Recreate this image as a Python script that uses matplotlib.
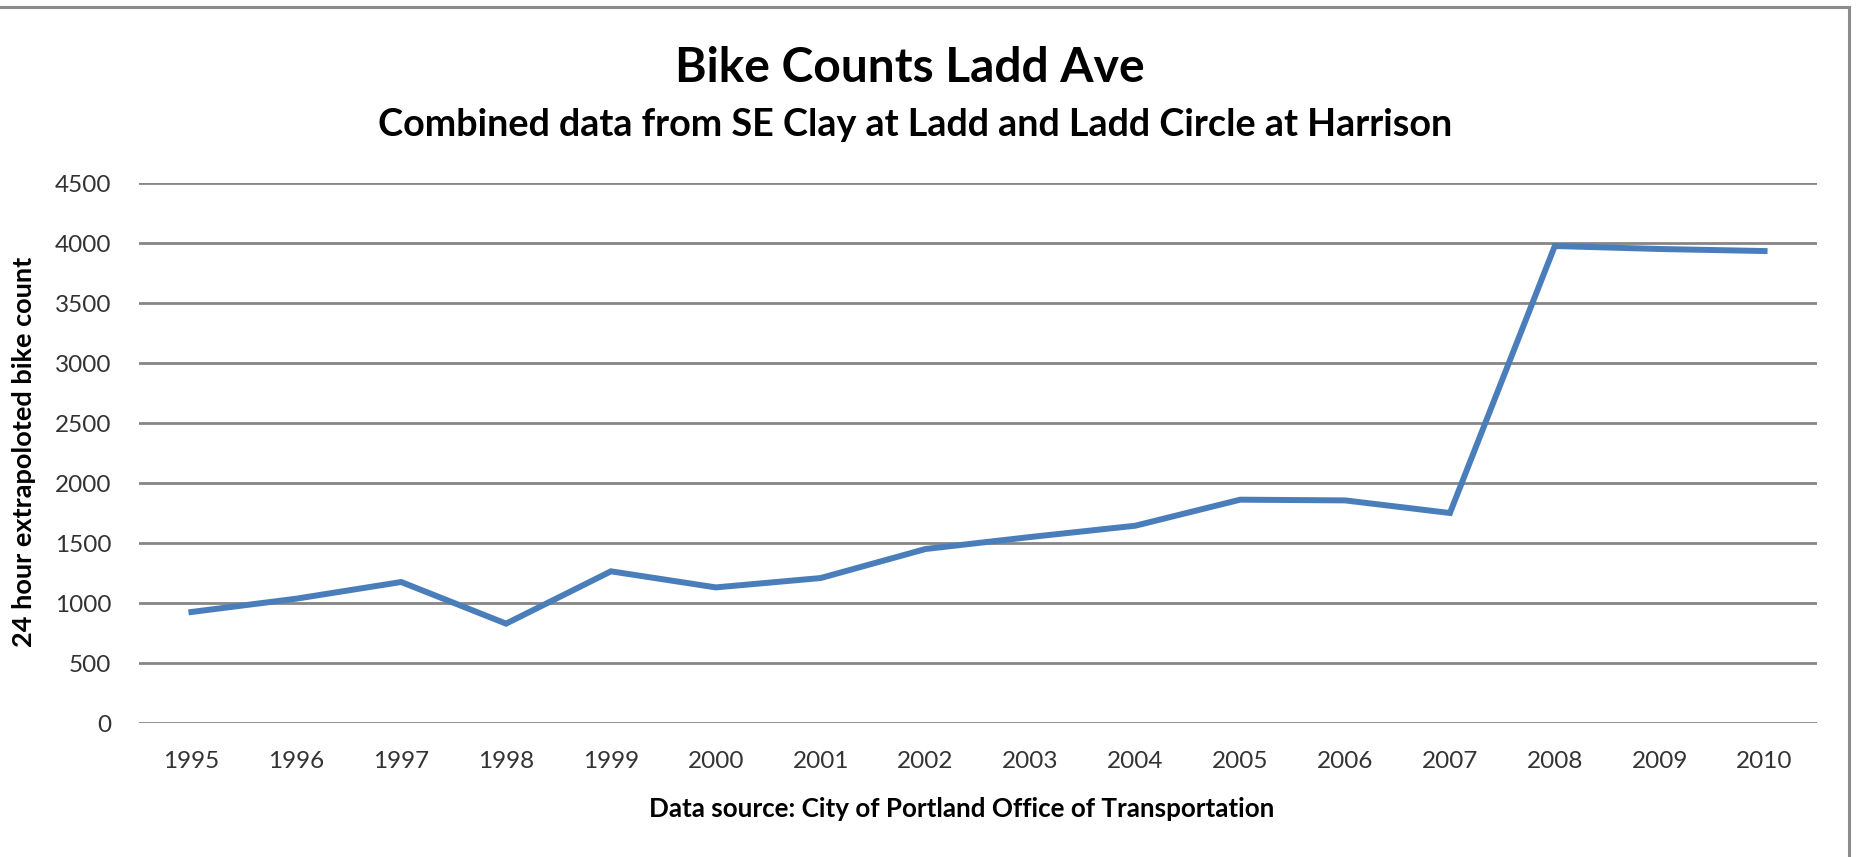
import matplotlib
matplotlib.use("Agg")
import matplotlib.pyplot as plt
from matplotlib.lines import Line2D

years = ["1995", "1996", "1997", "1998", "1999", "2000", "2001", "2002",
         "2003", "2004", "2005", "2006", "2007", "2008", "2009", "2010"]
counts = [925, 1036, 1175, 828, 1264, 1130, 1208, 1450,
          1550, 1644, 1861, 1855, 1750, 3975, 3950, 3933]
yticks = [0, 500, 1000, 1500, 2000, 2500, 3000, 3500, 4000, 4500]

title = "Bike Counts Ladd Ave"
subtitle = "Combined data from SE Clay at Ladd and Ladd Circle at Harrison"
ylabel = "24 hour extrapoloted bike count"
xlabel = "Data source: City of Portland Office of Transportation"

FONT = ["Lato", "DejaVu Sans"]
plt.rcParams["font.family"] = FONT

W, H = 1858, 857
fig = plt.figure(figsize=(W / 100, H / 100), dpi=100)
fig.patch.set_facecolor("white")

ax = fig.add_axes([139 / W, 1 - 723 / H, (1817 - 139) / W, (723 - 183) / H])
x = list(range(len(years)))
ax.plot(x, counts, color="#4a7ebb", lw=4.3, solid_joinstyle="miter", zorder=3)
ax.set_xlim(-0.5, len(years) - 0.5)
ax.set_ylim(0, 4500)
ax.set_yticks(yticks)
ax.set_yticklabels([str(v) for v in yticks])
ax.set_xticks(x)
ax.set_xticklabels(years)
for s in ax.spines.values():
    s.set_visible(False)
ax.grid(axis="y", color="#868686", lw=2.0, zorder=1)
ax.set_axisbelow(True)
ax.tick_params(axis="both", length=0, labelsize=17.5, colors="#333333")
ax.tick_params(axis="y", pad=20)
ax.tick_params(axis="x", pad=20)

r = fig.canvas.get_renderer()


def fit(t, target, vertical=False):
    bb = t.get_window_extent(r)
    w = bb.height if vertical else bb.width
    t.set_fontsize(t.get_fontsize() * target / w)


t1 = fig.text(910 / W, 1 - 68 / H, title, ha="center", va="center",
              fontsize=30, fontweight="bold", color="black")
fit(t1, 470)
t2 = fig.text(915 / W, 1 - 125 / H, subtitle, ha="center", va="center",
              fontsize=20, fontweight="bold", color="black")
fit(t2, 1076)
t3 = fig.text(24 / W, 1 - 452 / H, ylabel, ha="center", va="center",
              rotation=90, fontsize=14, fontweight="bold", color="black")
fit(t3, 394, vertical=True)
t4 = fig.text(962 / W, 1 - 809 / H, xlabel, ha="center", va="center",
              fontsize=14, fontweight="bold", color="black")
fit(t4, 628)

# partial frame (top and right border of the screenshot)
fig.add_artist(Line2D([0, 1849 / W], [1 - 7 / H, 1 - 7 / H],
                      transform=fig.transFigure, color="#8c8c8c", lw=2.2))
fig.add_artist(Line2D([1849 / W, 1849 / W], [0, 1 - 7 / H],
                      transform=fig.transFigure, color="#8c8c8c", lw=2.2))

fig.savefig("out.png", dpi=100, facecolor="white")
